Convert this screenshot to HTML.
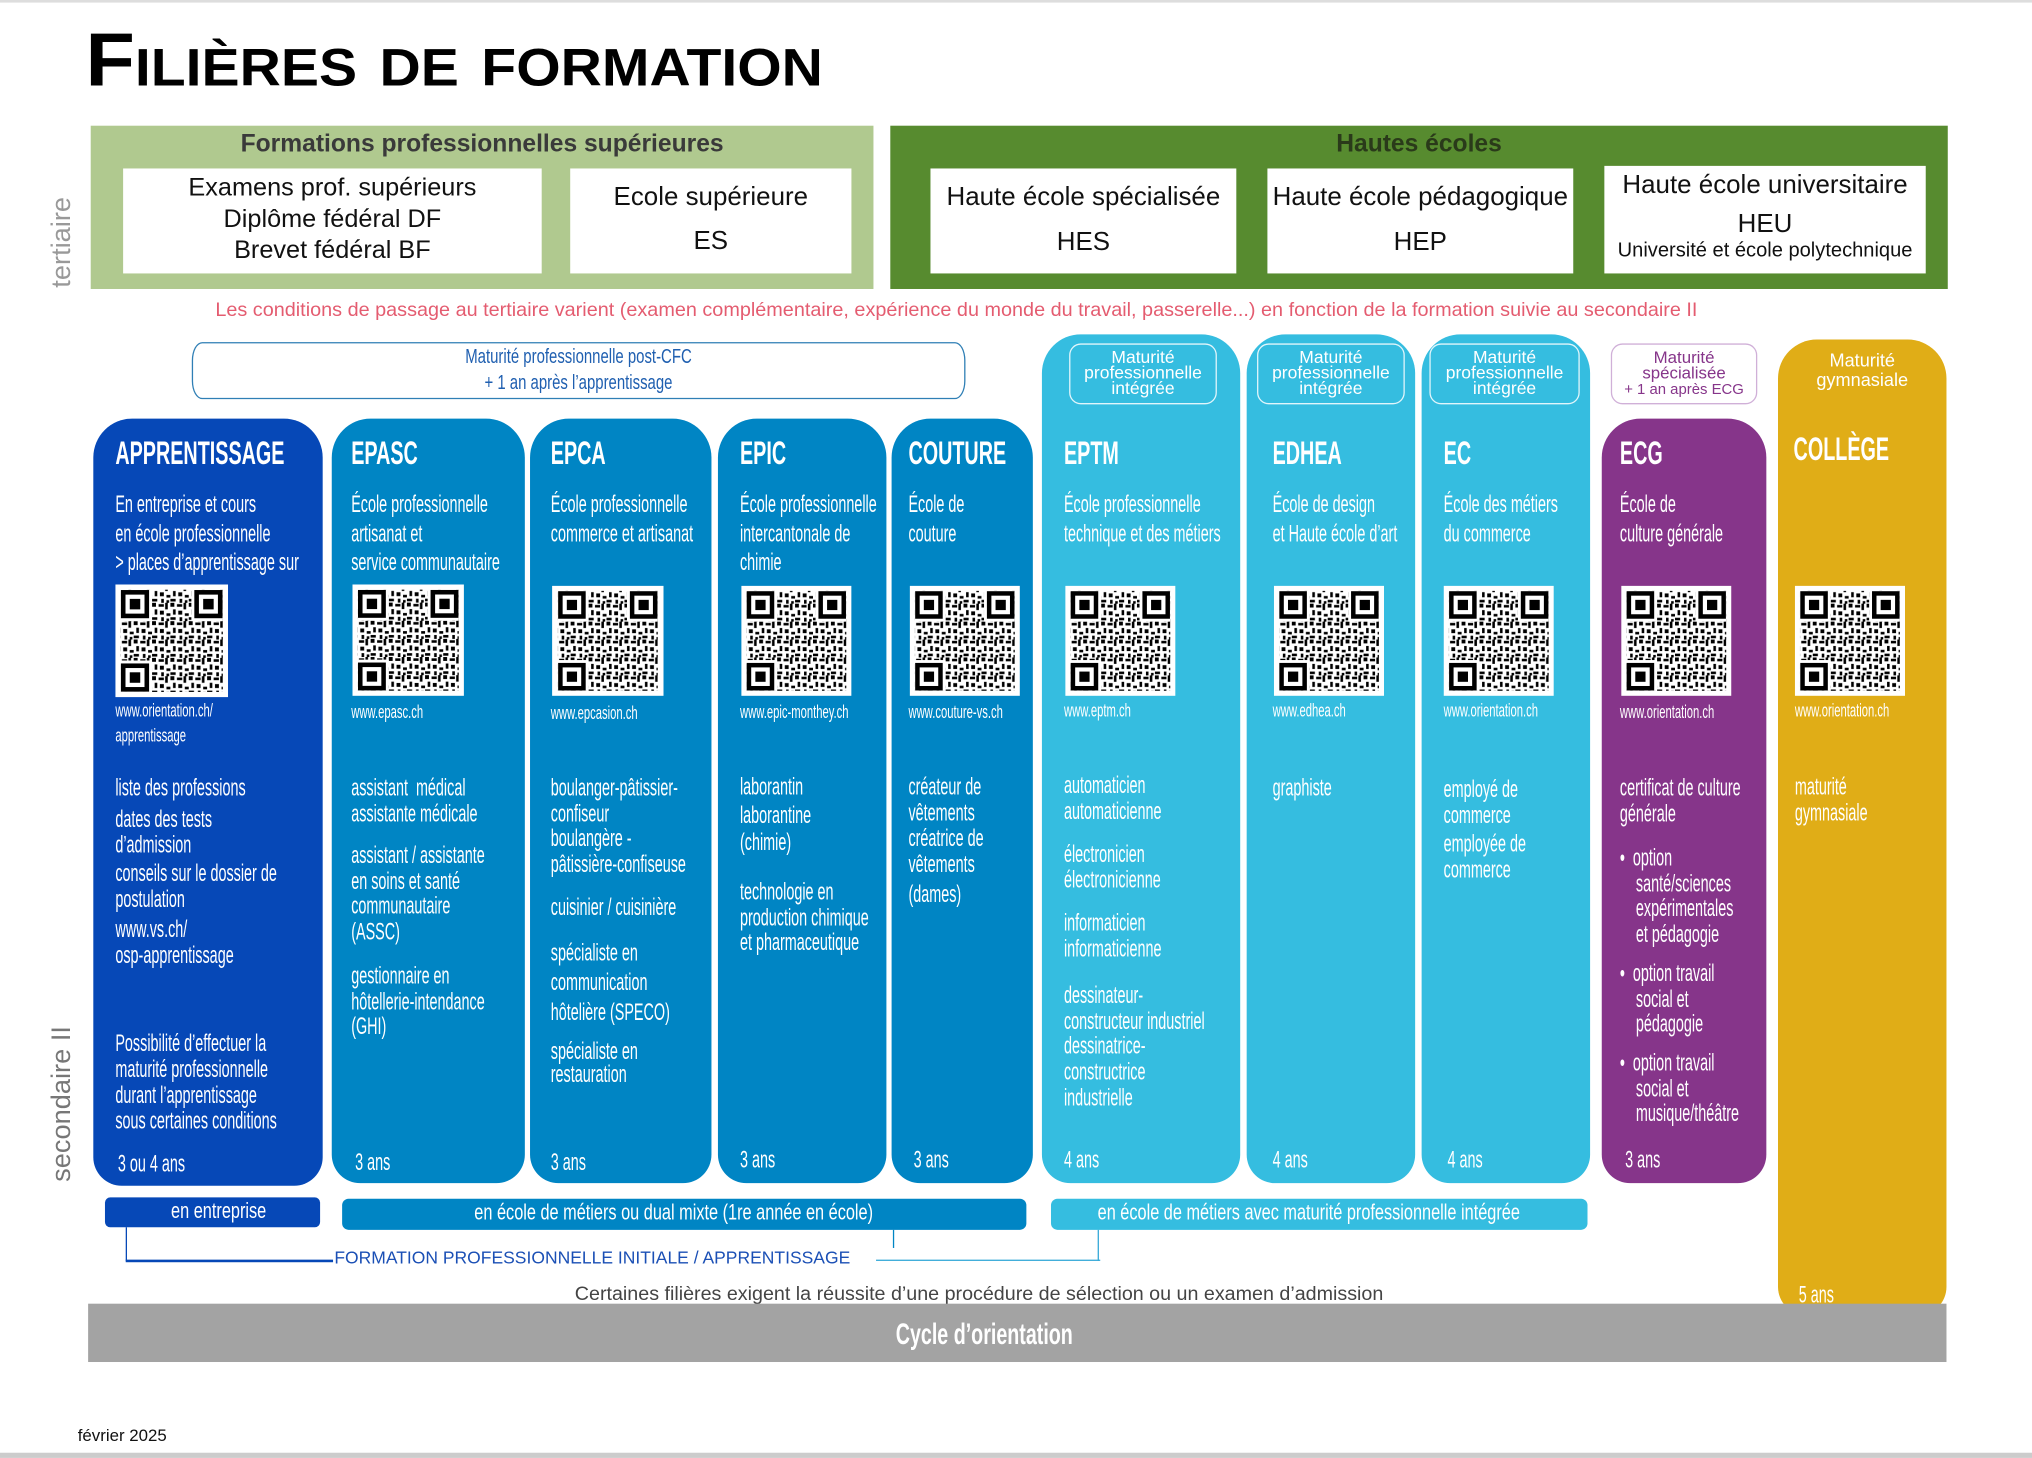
<!DOCTYPE html>
<html><head><meta charset="utf-8"><style>
html,body{margin:0;padding:0;background:#fff;width:2032px;height:1458px;overflow:hidden}
#p{position:relative;width:1568px;height:1125px;transform:scale(1.29592);transform-origin:0 0;font-family:"Liberation Sans",sans-serif}
#p div{position:absolute;box-sizing:border-box}
.w{color:#fff;white-space:nowrap;transform:scaleX(.6);transform-origin:0 0;font-size:18.5px;line-height:20px}
.h{font-weight:bold;font-size:25px;line-height:26px;transform:scaleX(.61)}
.u{font-size:14px;transform:scaleX(.62)}
.b{font-size:17px;transform:scaleX(.74)}
.col{border-radius:30px 30px 22px 22px}
.wb{background:#fff;text-align:center;color:#111}
.mb{border:1.2px solid rgba(255,255,255,.85);border-radius:9px;color:#fff;text-align:center;font-size:13.5px;line-height:12px;padding-top:4px}
</style></head><body>
<svg width="0" height="0" style="position:absolute">
<defs>
<pattern id="pt" width="14" height="14" patternUnits="userSpaceOnUse">
<rect x="0" y="0" width="3" height="3"/><rect x="5" y="1" width="4" height="2"/><rect x="10" y="0" width="2" height="5"/><rect x="2" y="5" width="2" height="4"/><rect x="6" y="6" width="3" height="3"/><rect x="11" y="8" width="3" height="2"/><rect x="0" y="11" width="4" height="2"/><rect x="7" y="11" width="2" height="3"/><rect x="11" y="12" width="2" height="2"/>
</pattern>
<symbol id="qr" viewBox="0 0 86 86">
<rect x="4" y="4" width="78" height="78" fill="url(#pt)"/>
<rect x="4" y="4" width="24" height="24" fill="#fff"/><rect x="58" y="4" width="24" height="24" fill="#fff"/><rect x="4" y="58" width="24" height="24" fill="#fff"/>
<rect x="6" y="6" width="18" height="18" fill="none" stroke="#000" stroke-width="3.5"/><rect x="11" y="11" width="8" height="8"/>
<rect x="62" y="6" width="18" height="18" fill="none" stroke="#000" stroke-width="3.5"/><rect x="67" y="11" width="8" height="8"/>
<rect x="6" y="62" width="18" height="18" fill="none" stroke="#000" stroke-width="3.5"/><rect x="11" y="67" width="8" height="8"/>
</symbol>
</defs></svg>
<div id="p">
<div style="left:0;top:0;width:1568px;height:2px;background:#ddd"></div>
<div style="left:66px;top:14px;font-size:58px;font-weight:bold;font-variant:small-caps;color:#000;white-space:nowrap;transform:scaleX(1.075);transform-origin:0 0;line-height:66px">Filières de formation</div>

<div style="left:36px;top:222px;transform:rotate(-90deg);transform-origin:0 0;color:#999;font-size:21px;white-space:nowrap;line-height:24px;width:90px">tertiaire</div>
<div style="left:36px;top:912px;transform:rotate(-90deg);transform-origin:0 0;color:#777;font-size:21px;white-space:nowrap;line-height:24px;width:140px">secondaire II</div>

<div style="left:70px;top:97px;width:604px;height:126px;background:#b0c98f"></div>
<div style="left:70px;top:101px;width:604px;text-align:center;font-weight:bold;font-size:19px;color:#3a3a3a">Formations professionnelles supérieures</div>
<div class="wb" style="left:95px;top:130px;width:323px;height:81px;font-size:19.5px;line-height:24px;padding-top:3px">Examens prof. supérieurs<br>Diplôme fédéral DF<br>Brevet fédéral BF</div>
<div class="wb" style="left:440px;top:130px;width:217px;height:81px;font-size:20px;line-height:34px;padding-top:5px">Ecole supérieure<br>ES</div>
<div style="left:687px;top:97px;width:816px;height:126px;background:#578b2f"></div>
<div style="left:687px;top:101px;width:816px;text-align:center;font-weight:bold;font-size:19px;color:#2a3a1a">Hautes écoles</div>
<div class="wb" style="left:718px;top:130px;width:236px;height:81px;font-size:20px;line-height:35px;padding-top:5px">Haute école spécialisée<br>HES</div>
<div class="wb" style="left:978px;top:130px;width:236px;height:81px;font-size:20px;line-height:35px;padding-top:5px">Haute école pédagogique<br>HEP</div>
<div class="wb" style="left:1238px;top:128px;width:248px;height:83px;font-size:20px;line-height:30px;padding-top:0">Haute école universitaire<br>HEU<br><span style="font-size:15.5px;line-height:20px;display:block;margin-top:-4px">Université et école polytechnique</span></div>
<div style="left:0px;top:231px;width:1476px;text-align:center;color:#e45c70;font-size:15.3px;white-space:nowrap">Les conditions de passage au tertiaire varient (examen  complémentaire, expérience du monde du travail, passerelle...) en fonction de la formation suivie au secondaire II</div>

<div style="left:148px;top:264px;width:597px;height:44px;border:1.3px solid #2f7fb5;border-radius:8px/14px"></div>
<div style="left:148px;top:266px;width:597px;text-align:center;color:#1f5fb0;font-size:16px;line-height:20px;"><div style="position:relative;display:inline-block;transform:scaleX(.72)">Maturité professionnelle post-CFC<br>+ 1 an après l’apprentissage</div></div>

<div class="col" style="left:72px;top:323px;width:177px;height:592px;background:#0648b7"></div>
<div class="col" style="left:256px;top:323px;width:149px;height:590px;background:#0085c4"></div>
<div class="col" style="left:409px;top:323px;width:140px;height:590px;background:#0085c4"></div>
<div class="col" style="left:554px;top:323px;width:130px;height:590px;background:#0085c4"></div>
<div class="col" style="left:688px;top:323px;width:109px;height:590px;background:#0085c4"></div>
<div class="col" style="left:804px;top:258px;width:153px;height:655px;background:#35bde0"></div>
<div class="col" style="left:962px;top:258px;width:130px;height:655px;background:#35bde0"></div>
<div class="col" style="left:1097px;top:258px;width:130px;height:655px;background:#35bde0"></div>
<div class="col" style="left:1236px;top:323px;width:127px;height:590px;background:#86358a"></div>
<div class="col" style="left:1372px;top:262px;width:130px;height:753px;background:#e0ad17"></div>

<div class="mb" style="left:825px;top:265px;width:114px;height:47px">Maturité<br>professionnelle<br>intégrée</div>
<div class="mb" style="left:970px;top:265px;width:114px;height:47px">Maturité<br>professionnelle<br>intégrée</div>
<div class="mb" style="left:1103px;top:265px;width:116px;height:47px">Maturité<br>professionnelle<br>intégrée</div>
<div class="mb" style="left:1243px;top:265px;width:113px;height:47px;background:#fff;border-color:#d0b0d8;color:#86358a;font-size:13px">Maturité<br>spécialisée<br><span style="font-size:11.5px">+ 1 an après ECG</span></div>
<div style="left:1372px;top:271px;width:130px;text-align:center;color:#fff;font-size:14px;line-height:15px">Maturité<br>gymnasiale</div>

<div class="w h" style="left:89px;top:337px">APPRENTISSAGE</div>
<div class="w h" style="left:271px;top:337px">EPASC</div>
<div class="w h" style="left:425px;top:337px">EPCA</div>
<div class="w h" style="left:571px;top:337px">EPIC</div>
<div class="w h" style="left:701px;top:337px">COUTURE</div>
<div class="w h" style="left:821px;top:337px">EPTM</div>
<div class="w h" style="left:982px;top:337px">EDHEA</div>
<div class="w h" style="left:1114px;top:337px">EC</div>
<div class="w h" style="left:1250px;top:337px">ECG</div>
<div class="w h" style="left:1384px;top:334px">COLLÈGE</div>

<div class="w" style="left:89px;top:378px;line-height:22.5px">En entreprise et cours<br>en école professionnelle<br>&gt; places d’apprentissage sur</div>
<div class="w" style="left:271px;top:378px;line-height:22.5px">École professionnelle<br>artisanat et<br>service communautaire</div>
<div class="w" style="left:425px;top:378px;line-height:22.5px">École professionnelle<br>commerce et artisanat</div>
<div class="w" style="left:571px;top:378px;line-height:22.5px">École professionnelle<br>intercantonale de<br>chimie</div>
<div class="w" style="left:701px;top:378px;line-height:22.5px">École de<br>couture</div>
<div class="w" style="left:821px;top:378px;line-height:22.5px">École professionnelle<br>technique et des métiers</div>
<div class="w" style="left:982px;top:378px;line-height:22.5px">École de design<br>et Haute école d’art</div>
<div class="w" style="left:1114px;top:378px;line-height:22.5px">École des métiers<br>du commerce</div>
<div class="w" style="left:1250px;top:378px;line-height:22.5px">École de<br>culture générale</div>

<svg style="position:absolute;left:89px;top:451px" width="87" height="87"><rect width="87" height="87" fill="#fff"/><use href="#qr" width="87" height="87"/></svg>
<svg style="position:absolute;left:272px;top:451px" width="86" height="86"><rect width="86" height="86" fill="#fff"/><use href="#qr" width="86" height="86"/></svg>
<svg style="position:absolute;left:426px;top:452px" width="86" height="85"><rect width="86" height="85" fill="#fff"/><use href="#qr" width="86" height="85"/></svg>
<svg style="position:absolute;left:572px;top:452px" width="85" height="85"><rect width="85" height="85" fill="#fff"/><use href="#qr" width="85" height="85"/></svg>
<svg style="position:absolute;left:702px;top:452px" width="85" height="85"><rect width="85" height="85" fill="#fff"/><use href="#qr" width="85" height="85"/></svg>
<svg style="position:absolute;left:822px;top:452px" width="85" height="85"><rect width="85" height="85" fill="#fff"/><use href="#qr" width="85" height="85"/></svg>
<svg style="position:absolute;left:983px;top:452px" width="85" height="85"><rect width="85" height="85" fill="#fff"/><use href="#qr" width="85" height="85"/></svg>
<svg style="position:absolute;left:1114px;top:452px" width="85" height="85"><rect width="85" height="85" fill="#fff"/><use href="#qr" width="85" height="85"/></svg>
<svg style="position:absolute;left:1251px;top:452px" width="85" height="85"><rect width="85" height="85" fill="#fff"/><use href="#qr" width="85" height="85"/></svg>
<svg style="position:absolute;left:1385px;top:452px" width="85" height="85"><rect width="85" height="85" fill="#fff"/><use href="#qr" width="85" height="85"/></svg>

<div class="w u" style="left:89px;top:539px;line-height:19px">www.orientation.ch/<br>apprentissage</div>
<div class="w u" style="left:271px;top:539px">www.epasc.ch</div>
<div class="w u" style="left:425px;top:540px">www.epcasion.ch</div>
<div class="w u" style="left:571px;top:539px">www.epic-monthey.ch</div>
<div class="w u" style="left:701px;top:539px">www.couture-vs.ch</div>
<div class="w u" style="left:821px;top:538px">www.eptm.ch</div>
<div class="w u" style="left:982px;top:538px">www.edhea.ch</div>
<div class="w u" style="left:1114px;top:538px">www.orientation.ch</div>
<div class="w u" style="left:1250px;top:539px">www.orientation.ch</div>
<div class="w u" style="left:1385px;top:538px">www.orientation.ch</div>

<div class="w" style="left:89px;top:598px">liste des professions</div>
<div class="w" style="left:89px;top:622px">dates des tests<br>d’admission</div>
<div class="w" style="left:89px;top:664px">conseils sur le dossier de<br>postulation</div>
<div class="w" style="left:89px;top:707px">www.vs.ch/<br>osp-apprentissage</div>
<div class="w" style="left:89px;top:795px">Possibilité d’effectuer la<br>maturité professionnelle<br>durant l’apprentissage<br>sous certaines conditions</div>
<div class="w" style="left:91px;top:888px">3 ou 4 ans</div>

<div class="w" style="left:271px;top:598px;line-height:19.5px">assistant &nbsp;médical<br>assistante médicale</div>
<div class="w" style="left:271px;top:650px;line-height:19.5px">assistant / assistante<br>en soins et santé<br>communautaire<br>(ASSC)</div>
<div class="w" style="left:271px;top:743px;line-height:19.5px">gestionnaire en<br>hôtellerie-intendance<br>(GHI)</div>
<div class="w" style="left:274px;top:887px">3 ans</div>

<div class="w" style="left:425px;top:598px;line-height:19.7px">boulanger-pâtissier-<br>confiseur<br>boulangère -<br>pâtissière-confiseuse</div>
<div class="w" style="left:425px;top:690px">cuisinier / cuisinière</div>
<div class="w" style="left:425px;top:723px;line-height:23px">spécialiste en<br>communication<br>hôtelière (SPECO)</div>
<div class="w" style="left:425px;top:802px;line-height:18px">spécialiste en<br>restauration</div>
<div class="w" style="left:425px;top:887px">3 ans</div>

<div class="w" style="left:571px;top:596px;line-height:21.5px">laborantin<br>laborantine<br>(chimie)</div>
<div class="w" style="left:571px;top:678px;line-height:19.5px">technologie en<br>production chimique<br>et pharmaceutique</div>
<div class="w" style="left:571px;top:885px">3 ans</div>

<div class="w" style="left:701px;top:597px;line-height:20px">créateur de<br>vêtements<br>créatrice de<br>vêtements<br><span style="display:block;margin-top:3px">(dames)</span></div>
<div class="w" style="left:705px;top:885px">3 ans</div>

<div class="w" style="left:821px;top:596px">automaticien<br>automaticienne</div>
<div class="w" style="left:821px;top:649px">électronicien<br>électronicienne</div>
<div class="w" style="left:821px;top:702px;line-height:19.5px">informaticien<br>informaticienne</div>
<div class="w" style="left:821px;top:758px;line-height:19.7px">dessinateur-<br>constructeur industriel<br>dessinatrice-<br>constructrice<br>industrielle</div>
<div class="w" style="left:821px;top:885px">4 ans</div>

<div class="w" style="left:982px;top:598px">graphiste</div>
<div class="w" style="left:982px;top:885px">4 ans</div>

<div class="w" style="left:1114px;top:599px;line-height:19.5px">employé de<br>commerce</div>
<div class="w" style="left:1114px;top:641px;line-height:19.5px">employée de<br>commerce</div>
<div class="w" style="left:1117px;top:885px">4 ans</div>

<div class="w" style="left:1250px;top:598px;line-height:19.5px">certificat de culture<br>générale</div>
<div class="w" style="left:1250px;top:652px;line-height:19.7px">•&nbsp; option<br>&nbsp;&nbsp;&nbsp;&nbsp;santé/sciences<br>&nbsp;&nbsp;&nbsp;&nbsp;expérimentales<br>&nbsp;&nbsp;&nbsp;&nbsp;et pédagogie</div>
<div class="w" style="left:1250px;top:741px;line-height:19.7px">•&nbsp; option travail<br>&nbsp;&nbsp;&nbsp;&nbsp;social et<br>&nbsp;&nbsp;&nbsp;&nbsp;pédagogie</div>
<div class="w" style="left:1250px;top:810px;line-height:19.7px">•&nbsp; option travail<br>&nbsp;&nbsp;&nbsp;&nbsp;social et<br>&nbsp;&nbsp;&nbsp;&nbsp;musique/théâtre</div>
<div class="w" style="left:1254px;top:885px">3 ans</div>

<div class="w" style="left:1385px;top:597px">maturité<br>gymnasiale</div>
<div class="w" style="left:1388px;top:989px">5 ans</div>

<div style="left:81px;top:924px;width:166px;height:23px;background:#0648b7;border-radius:4px"></div>
<div class="w b" style="left:132px;top:925px">en entreprise</div>
<div style="left:264px;top:925px;width:528px;height:24px;background:#0085c4;border-radius:5px"></div>
<div class="w b" style="left:366px;top:926px">en école de métiers ou dual mixte (1re année en école)</div>
<div style="left:811px;top:925px;width:414px;height:24px;background:#35bde0;border-radius:5px"></div>
<div class="w b" style="left:847px;top:926px">en école de métiers avec maturité professionnelle intégrée</div>

<div style="left:97px;top:947px;width:1.3px;height:26px;background:#0648b7"></div>
<div style="left:97px;top:972px;width:160px;height:1.5px;background:#0648b7"></div>
<div style="left:258px;top:963px;color:#1a4fb5;font-size:13.5px;white-space:nowrap">FORMATION PROFESSIONNELLE INITIALE / APPRENTISSAGE</div>
<div style="left:689px;top:949px;width:1.3px;height:14px;background:#0085c4"></div>
<div style="left:676px;top:972px;width:173px;height:1.3px;background:#35a8d8"></div>
<div style="left:847px;top:949px;width:1.3px;height:24px;background:#35a8d8"></div>

<div style="left:68px;top:990px;width:1375px;text-align:center;color:#444;font-size:15.2px;white-space:nowrap">Certaines filières exigent la réussite d’une procédure de sélection ou un examen d’admission</div>
<div style="left:68px;top:1006px;width:1434px;height:45px;background:#a3a3a3"></div>
<div style="left:68px;top:1016px;width:1383px;text-align:center;color:#fff;font-weight:bold;font-size:23px;line-height:26px"><div style="position:relative;display:inline-block;transform:scaleX(.66)">Cycle d’orientation</div></div>

<div style="left:60px;top:1100px;font-size:13px;color:#111">février 2025</div>
<div style="left:0;top:1121px;width:1568px;height:4px;background:#ccc"></div>
</div>
</body></html>
